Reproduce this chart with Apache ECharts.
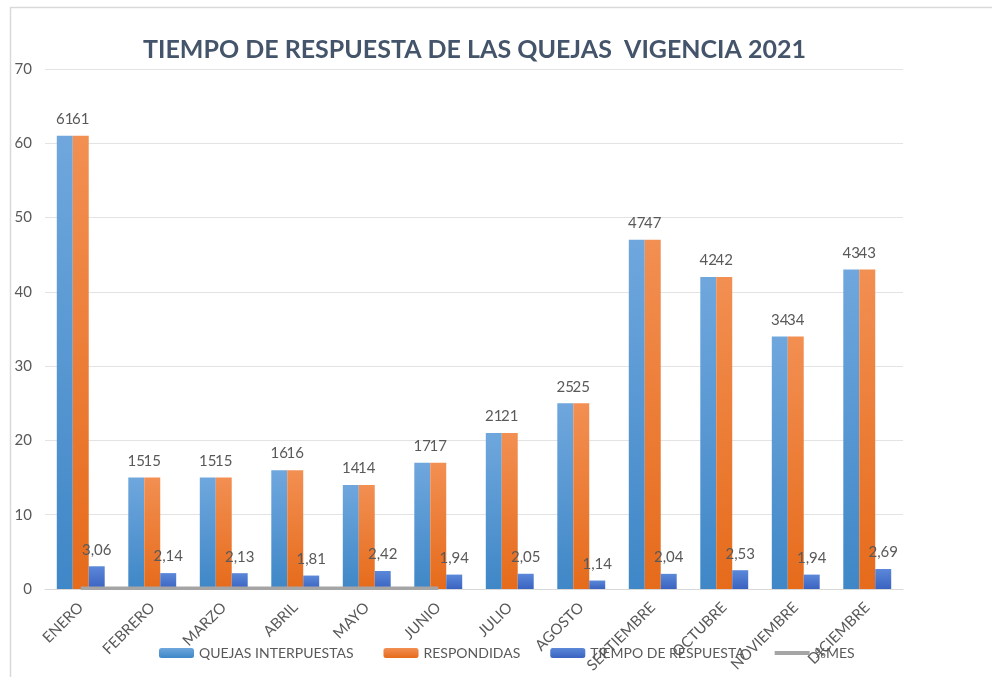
<!DOCTYPE html>
<html>
<head>
<meta charset="utf-8">
<script src="https://cdn.jsdelivr.net/npm/echarts@6/dist/echarts.min.js"></script>
<style>
html,body{margin:0;padding:0;background:#fff;}
#chart{width:992px;height:677px;}
</style>
</head>
<body>
<div id="chart"></div>
<script>
/* Tiempo de respuesta de las quejas - vigencia 2021 */
var months = ["ENERO","FEBRERO","MARZO","ABRIL","MAYO","JUNIO","JULIO","AGOSTO","SEPTIEMBRE","OCTUBRE","NOVIEMBRE","DICIEMBRE"];
var quejas = [61,15,15,16,14,17,21,25,47,42,34,43];
var respondidas = [61,15,15,16,14,17,21,25,47,42,34,43];
var tiempo = [3.06,2.14,2.13,1.81,2.42,1.94,2.05,1.14,2.04,2.53,1.94,2.69];
var pctMes = [0.1,0.1,0.1,0.1,0.1,0.1,null,null,null,null,null,null];

var TXT = "#595959", FONT = "Lato, 'Open Sans', sans-serif";
function grad(top, bottom){
  return new echarts.graphic.LinearGradient(0,0,0,1,[{offset:0,color:top},{offset:1,color:bottom}]);
}
function lbl(fmt){
  return { show:true, position:"top", distance:9, color:TXT, fontSize:15, fontFamily:FONT, formatter:fmt };
}

var ch = echarts.init(document.getElementById("chart"), null, {renderer:"canvas"});
ch.setOption({
  animation:false,
  backgroundColor:"#fff",
  textStyle:{fontFamily:FONT},
  title:{
    text:"TIEMPO DE RESPUESTA DE LAS QUEJAS  VIGENCIA 2021",
    left:143, top:37, padding:0,
    textStyle:{color:"#44546a", fontSize:25, fontWeight:"bold", fontFamily:FONT}
  },
  graphic:[{ type:"rect", left:8, top:5, z:-1,
    shape:{x:0, y:0, width:1000, height:700},
    style:{fill:null, stroke:"#d9d9d9", lineWidth:1.5} }],
  grid:{ left:45, right:89, top:69, bottom:88, containLabel:false },
  legend:{
    left:159, top:646, padding:0, itemWidth:35, itemHeight:10, itemGap:30,
    textStyle:{color:TXT, fontSize:14, fontFamily:FONT},
    data:["QUEJAS INTERPUESTAS","RESPONDIDAS","TIEMPO DE RESPUESTA",
      { name:"%MES", icon:"path://M0,0 L40,0 L40,4.5 L0,4.5 Z" }]
  },
  xAxis:{
    type:"category", data:months,
    axisLine:{lineStyle:{color:"#d9d9d9"}},
    axisTick:{show:false},
    axisLabel:{rotate:45, color:TXT, fontSize:15, fontFamily:FONT, margin:16, interval:0}
  },
  yAxis:{
    type:"value", min:0, max:70, interval:10,
    axisLine:{show:false}, axisTick:{show:false},
    axisLabel:{color:TXT, fontSize:15, fontFamily:FONT, margin:13},
    splitLine:{lineStyle:{color:"#e3e3e3"}}
  },
  series:[
    { name:"QUEJAS INTERPUESTAS", type:"bar", data:quejas, barGap:"0%", barCategoryGap:"33%",
      itemStyle:{color:grad("#6fa7dd","#3f87c7")}, label:lbl("{c}") },
    { name:"RESPONDIDAS", type:"bar", data:respondidas, barGap:"0%", barCategoryGap:"33%",
      itemStyle:{color:grad("#f28f52","#e66b1b")}, label:lbl("{c}") },
    { name:"TIEMPO DE RESPUESTA", type:"bar", data:tiempo, barGap:"0%", barCategoryGap:"33%",
      itemStyle:{color:grad("#5b88d9","#3a63c0")},
      label:lbl(function(p){ return p.value.toFixed(2).replace(".", ","); }) },
    { name:"%MES", type:"line", data:pctMes, symbol:"none", z:5,
      itemStyle:{color:"#a5a5a5"}, lineStyle:{color:"#a5a5a5", width:3.5} }
  ]
});
</script>
</body>
</html>
